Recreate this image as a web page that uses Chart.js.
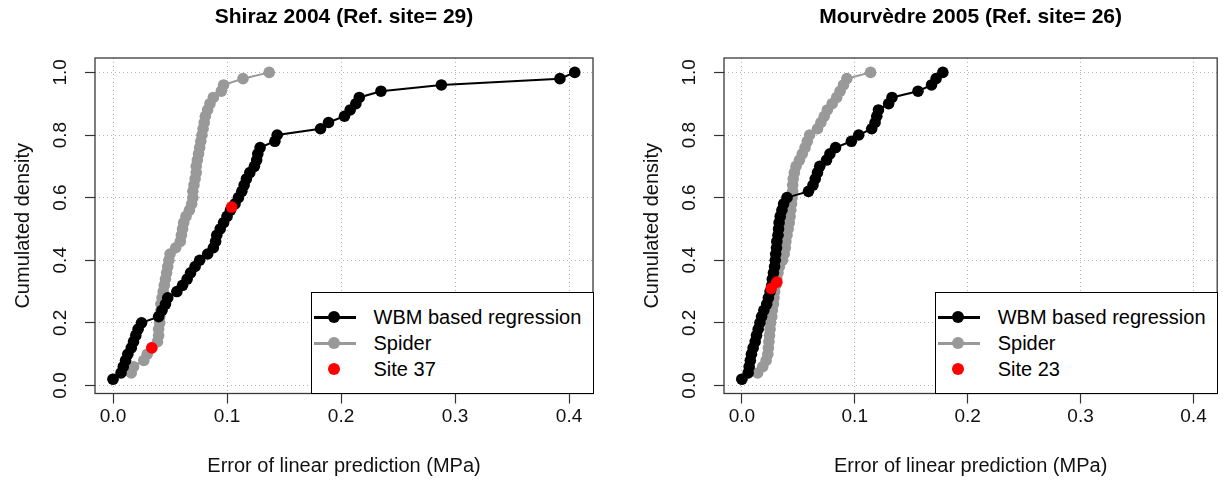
<!DOCTYPE html>
<html><head><meta charset="utf-8">
<script src="https://cdn.jsdelivr.net/npm/chart.js@4.4.1/dist/chart.umd.min.js"></script>
<style>
html,body{margin:0;padding:0;background:#fff;overflow:hidden;width:1223px;height:481px;position:relative;}
.panel{position:absolute;top:0;}
.legend{position:absolute;border:1px solid #000;background:#fff;font:20px "Liberation Sans",Arial,sans-serif;color:#000;box-sizing:border-box;}
.row{position:absolute;left:0;height:26px;line-height:26px;white-space:nowrap;}
.ln{position:absolute;height:3px;}
.dot{position:absolute;border-radius:50%;}
</style></head><body>
<div class="panel" style="left:0;width:612px;height:481px"><canvas id="c1" width="612" height="481"></canvas></div>
<div class="panel" style="left:629px;width:594px;height:481px"><canvas id="c2" width="594" height="481"></canvas></div>
<script>
// ---- data ----
const cumDensity = [0.02,0.04,0.06,0.08,0.10,0.12,0.14,0.16,0.18,0.20,
  0.22,0.24,0.26,0.28,0.30,0.32,0.34,0.36,0.38,0.40,
  0.42,0.44,0.46,0.48,0.50,0.52,0.54,0.56,0.58,0.60,
  0.62,0.64,0.66,0.68,0.70,0.72,0.74,0.76,0.78,0.80,
  0.82,0.84,0.86,0.88,0.90,0.92,0.94,0.96,0.98,1.00];

const shirazWbm = [0.000,0.007,0.009,0.011,0.013,0.016,0.018,0.020,0.022,0.025,
  0.040,0.043,0.046,0.048,0.056,0.061,0.065,0.068,0.072,0.076,
  0.083,0.088,0.090,0.091,0.094,0.097,0.100,0.103,0.107,0.110,
  0.113,0.115,0.117,0.120,0.124,0.126,0.127,0.129,0.142,0.144,
  0.182,0.189,0.203,0.208,0.213,0.216,0.235,0.288,0.392,0.405];
const shirazSpider = [0.000,0.016,0.018,0.027,0.030,0.034,0.039,0.040,0.040,0.041,
  0.041,0.042,0.042,0.043,0.044,0.045,0.046,0.047,0.048,0.049,
  0.050,0.055,0.059,0.060,0.061,0.062,0.064,0.067,0.069,0.070,
  0.070,0.071,0.072,0.073,0.073,0.074,0.075,0.076,0.077,0.078,
  0.079,0.080,0.081,0.083,0.085,0.088,0.095,0.097,0.114,0.137];
const shirazSiteX = [0.034, 0.104];
const shirazSiteY = [0.12, 0.57];

const mourvWbm = [0.000,0.0056,0.0065,0.0075,0.0085,0.010,0.0118,0.013,0.0145,0.016,
  0.0175,0.0195,0.022,0.0235,0.025,0.0265,0.027,0.028,0.029,0.0296,
  0.030,0.0307,0.031,0.032,0.0325,0.033,0.034,0.0355,0.037,0.040,
  0.059,0.063,0.065,0.067,0.069,0.075,0.078,0.083,0.097,0.1035,
  0.115,0.118,0.1195,0.121,0.130,0.133,0.156,0.168,0.172,0.178];
const mourvSpider = [0.000,0.014,0.0185,0.0215,0.023,0.0235,0.024,0.0245,0.025,0.0255,
  0.0265,0.027,0.028,0.0285,0.029,0.030,0.031,0.032,0.0333,0.036,
  0.0375,0.0385,0.039,0.040,0.041,0.042,0.0427,0.0433,0.044,0.0445,
  0.045,0.045,0.0455,0.0465,0.048,0.051,0.0535,0.056,0.058,0.060,
  0.067,0.070,0.073,0.0757,0.080,0.084,0.087,0.090,0.093,0.114];
const mourvSiteX = [0.026, 0.031];
const mourvSiteY = [0.31, 0.33];

const xTicks = [0.0, 0.1, 0.2, 0.3, 0.4];
const yTicks = [0.0, 0.2, 0.4, 0.6, 0.8, 1.0];
const seriesNames = ['WBM based regression', 'Spider'];

// ---- styles ----
const FAM = '"Liberation Sans", Arial, Helvetica, sans-serif';
const BLACK = '#000000', GRAY = '#999999', RED = '#ff0000';
const R = 5.8;

const pts = (xs, ys) => xs.map((x, i) => ({x: x, y: ys[i]}));

const boxPlugin = {
  id: 'plotbox',
  beforeDatasetsDraw(chart) {
    const {ctx, chartArea: a} = chart;
    ctx.save();
    ctx.strokeStyle = '#3a3a3a';
    ctx.lineWidth = 1.3;
    ctx.strokeRect(a.left, a.top, a.right - a.left, a.bottom - a.top);
    ctx.restore();
  }
};

function makeChart(id, title, wbm, spider, sx, sy, siteLabel, padRight) {
  const ctx = document.getElementById(id);
  return new Chart(ctx, {
    type: 'scatter',
    data: {
      datasets: [
        {label: siteLabel, data: pts(sx, sy), showLine: false, pointRadius: R, pointBorderWidth: 0,
         backgroundColor: RED, borderColor: RED},
        {label: seriesNames[0], data: pts(wbm, cumDensity), showLine: true, borderWidth: 2,
         borderColor: BLACK, backgroundColor: BLACK, pointRadius: R, pointBorderWidth: 0},
        {label: seriesNames[1], data: pts(spider, cumDensity), showLine: true, borderWidth: 2,
         borderColor: GRAY, backgroundColor: GRAY, pointRadius: R, pointBorderWidth: 0}
      ]
    },
    options: {
      responsive: false, animation: false, events: [],
      layout: {padding: {left: 0, right: padRight, top: 0, bottom: 0}},
      plugins: {
        legend: {display: false}, tooltip: {enabled: false},
        title: {display: true, text: title, fullSize: false, color: '#000',
          font: {family: FAM, size: 21, weight: 'bold'}, padding: {top: 5, bottom: 27.8}}
      },
      scales: {
        x: {
          type: 'linear', min: -0.0158, max: 0.421,
          afterBuildTicks: s => { s.ticks = xTicks.map(v => ({value: v})); },
          afterFit: s => { s.height = 87.5; },
          grid: {color: '#b4b4b4', lineWidth: 1, drawTicks: true, tickLength: 10,
                 tickColor: '#333', tickWidth: 1.2, tickBorderDash: []},
          border: {display: false, dash: [1, 3]},
          ticks: {font: {family: FAM, size: 19}, color: '#111', padding: 2, maxRotation: 0,
                  callback: v => Number(v).toFixed(1)},
          title: {display: true, text: 'Error of linear prediction (MPa)', color: '#111',
                  font: {family: FAM, size: 20}, padding: {top: 0, bottom: 3}}
        },
        y: {
          type: 'linear', min: -0.0256, max: 1.046,
          afterBuildTicks: s => { s.ticks = yTicks.map(v => ({value: v})); },
          afterFit: s => { s.width = 95; },
          grid: {color: '#b4b4b4', lineWidth: 1, drawTicks: true, tickLength: 10,
                 tickColor: '#333', tickWidth: 1.2, tickBorderDash: []},
          border: {display: false, dash: [1, 3]},
          ticks: {font: {family: FAM, size: 19}, color: '#111', padding: 11,
                  minRotation: 90, maxRotation: 90, crossAlign: 'center',
                  callback: v => Number(v).toFixed(1)},
          title: {display: true, text: 'Cumulated density', color: '#111',
                  font: {family: FAM, size: 20}, padding: {top: 11, bottom: 0}}
        }
      }
    },
    plugins: [boxPlugin]
  });
}

function addLegend(canvasId, chart) {
  const panel = document.getElementById(canvasId).parentNode;
  const a = chart.chartArea;
  const W = 283, H = 102;
  const box = document.createElement('div');
  box.className = 'legend';
  box.style.left = (a.right - W + 0.5) + 'px';
  box.style.top = (a.bottom - H + 0.5) + 'px';
  box.style.width = W + 'px';
  box.style.height = H + 'px';
  const ds = chart.data.datasets;
  const items = [
    {label: ds[1].label, color: ds[1].borderColor, line: true},
    {label: ds[2].label, color: ds[2].borderColor, line: true},
    {label: ds[0].label, color: ds[0].backgroundColor, line: false}
  ];
  const centers = [24, 50, 76];
  items.forEach((it, i) => {
    const c = centers[i];
    if (it.line) {
      const l = document.createElement('div');
      l.className = 'ln';
      l.style.left = '2px'; l.style.width = '42px';
      l.style.top = (c - 1.5) + 'px';
      l.style.background = it.color;
      box.appendChild(l);
    }
    const d = document.createElement('div');
    d.className = 'dot';
    d.style.left = (22 - 6) + 'px'; d.style.top = (c - 6) + 'px';
    d.style.width = '12px'; d.style.height = '12px';
    d.style.background = it.color;
    box.appendChild(d);
    const t = document.createElement('div');
    t.className = 'row';
    t.style.left = '62px'; t.style.top = (c - 13) + 'px';
    t.textContent = it.label;
    box.appendChild(t);
  });
  panel.appendChild(box);
}

const ch1 = makeChart('c1', 'Shiraz 2004 (Ref. site= 29)', shirazWbm, shirazSpider,
  shirazSiteX, shirazSiteY, 'Site 37', 19);
const ch2 = makeChart('c2', 'Mourvèdre 2005 (Ref. site= 26)', mourvWbm, mourvSpider,
  mourvSiteX, mourvSiteY, 'Site 23', 1);
addLegend('c1', ch1);
addLegend('c2', ch2);
</script>
</body></html>
